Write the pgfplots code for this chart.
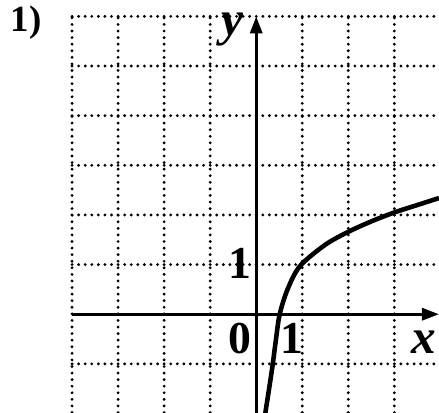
\documentclass[border=0pt]{standalone}
\usepackage{fontspec}
\setmainfont{Liberation Serif}
\usepackage{pgfplots}
\pgfplotsset{compat=1.18}
\usetikzlibrary{arrows.meta}
\begin{document}
\begin{tikzpicture}
\begin{axis}[
  x=4.6mm, y=4.96mm,
  xmin=-4, xmax=3.97, ymin=-1.98, ymax=6,
  axis lines=middle,
  axis line style={line width=0.9pt, -{Stealth[length=1.7mm,width=1.2mm,inset=0pt]}},
  xtick={-4,-3,-2,-1,0,1,2,3}, ytick={-1,0,1,2,3,4,5,6},
  xticklabels={,,,,,,,}, yticklabels={,,,,,,,},
  major tick length=0pt,
  grid=major,
  major grid style={line width=0.9pt, dash pattern=on 0pt off 1.87pt, line cap=round, black},
  clip mode=individual,
]
\addplot[smooth, line width=1.3pt, black] coordinates {
  (0.19,-2.1) (0.2,-1.98) (0.28,-1.5) (0.36,-1) (0.43,-0.5) (0.51,0)
  (0.68,0.5) (0.95,0.97) (1.5,1.4) (2,1.66) (2.5,1.87) (3,2.05) (3.5,2.2) (3.97,2.34)
};
\node[font=\fontsize{10.5}{12}\selectfont\bfseries] at (axis cs:-5.0,5.87) {1)};
\node[font=\fontsize{14}{16}\selectfont\bfseries\itshape] at (axis cs:-0.52,5.73) {y};
\node[font=\fontsize{14}{16}\selectfont\bfseries\itshape] at (axis cs:3.63,-0.56) {x};
\node[font=\fontsize{13}{15}\selectfont\bfseries] at (axis cs:-0.35,-0.48) {0};
\node[font=\fontsize{13}{15}\selectfont\bfseries] at (axis cs:0.78,-0.48) {1};
\node[font=\fontsize{13}{15}\selectfont\bfseries] at (axis cs:-0.35,1.03) {1};
\coordinate (bbl) at (axis cs:-5.565,-1.98);
\coordinate (btr) at (axis cs:3.97,6.33);
\end{axis}
\pgfresetboundingbox
\path[use as bounding box] (bbl) rectangle (btr);
\end{tikzpicture}
\end{document}
